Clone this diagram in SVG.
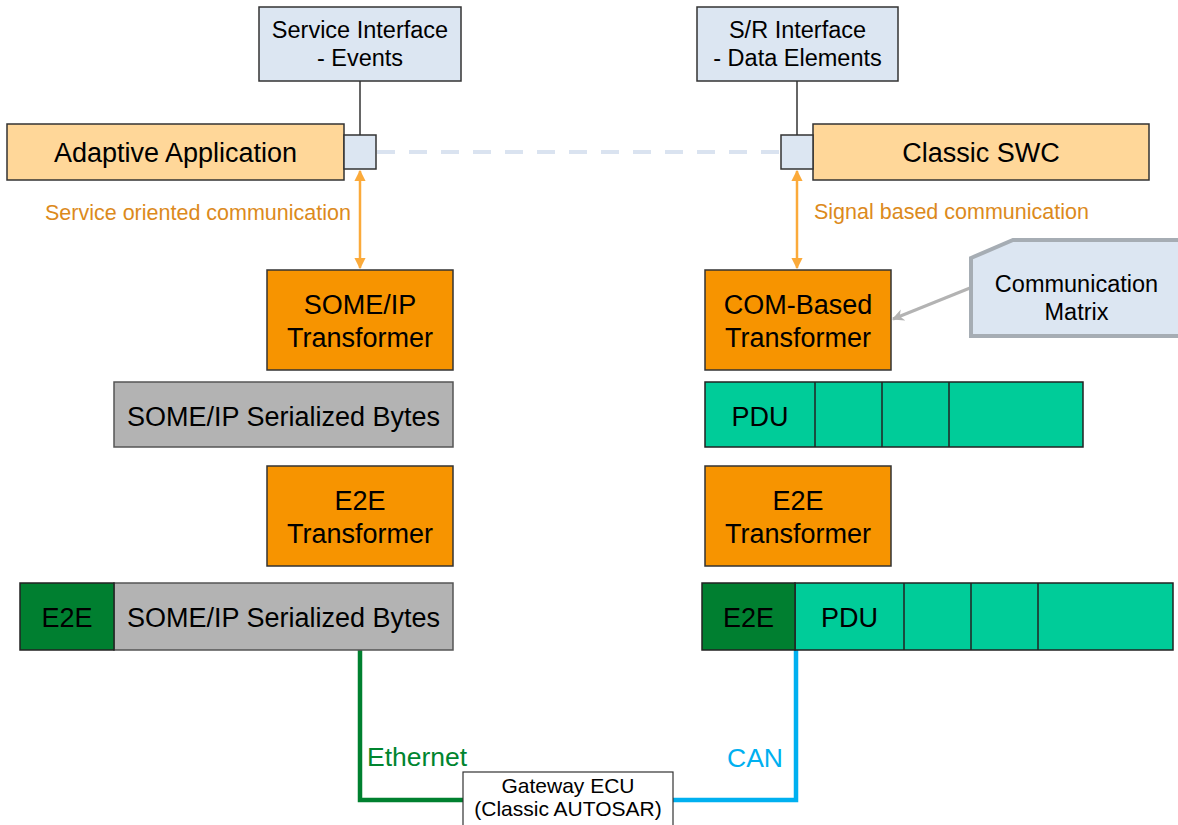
<svg xmlns="http://www.w3.org/2000/svg" width="1178" height="825" viewBox="0 0 1178 825">
<style>
  text { font-family: "Liberation Sans", Arial, sans-serif; fill: #000; }
  .lbl27 { font-size: 27px; text-anchor: middle; }
  .lbl24 { font-size: 23.5px; text-anchor: middle; }
  .iface { fill: #DCE6F2; stroke: #333; stroke-width: 1.5; }
  .app { fill: #FFD799; stroke: #333; stroke-width: 1.5; }
  .trans { fill: #F79400; stroke: #333; stroke-width: 1.5; }
  .bytes { fill: #B3B3B3; stroke: #555; stroke-width: 1.5; }
  .pdu { fill: #00CC99; stroke: #222; stroke-width: 1.5; }
  .e2e { fill: #007F30; stroke: #222; stroke-width: 1.5; }
  .port { fill: #DCE6F2; stroke: #333; stroke-width: 1.5; }
  .comm { font-size: 21.5px; fill: #DC8A1C; }
</style>
<defs>
  <marker id="oarrow" viewBox="0 0 10 10" refX="9" refY="5" markerWidth="4.5" markerHeight="4.5" orient="auto-start-reverse" markerUnits="strokeWidth">
    <path d="M0,0 L10,5 L0,10 z" fill="#FBAA3A"/>
  </marker>
  <marker id="garrow" viewBox="0 0 10 10" refX="9" refY="5" markerWidth="4" markerHeight="4" orient="auto" markerUnits="strokeWidth">
    <path d="M0,0 L10,5 L0,10 L3,5 z" fill="#B3B3B3"/>
  </marker>
</defs>

<g id="connectors">
  <line x1="360" y1="81" x2="360" y2="135" stroke="#333" stroke-width="1.5"/>
  <line x1="797" y1="81" x2="797" y2="135" stroke="#333" stroke-width="1.5"/>
  <line x1="377" y1="152" x2="781" y2="152" stroke="#DAE3F0" stroke-width="4" stroke-dasharray="18 14"/>
  <line x1="360" y1="171" x2="360" y2="268" stroke="#FBAA3A" stroke-width="2.5" marker-start="url(#oarrow)" marker-end="url(#oarrow)"/>
  <line x1="797" y1="171" x2="797" y2="268" stroke="#FBAA3A" stroke-width="2.5" marker-start="url(#oarrow)" marker-end="url(#oarrow)"/>
  <line x1="970" y1="288" x2="893" y2="319" stroke="#B3B3B3" stroke-width="3" marker-end="url(#garrow)"/>
  <polyline points="360,650 360,800 463,800" fill="none" stroke="#00802F" stroke-width="4.5"/>
  <polyline points="673,800 796,800 796,650" fill="none" stroke="#00B0F0" stroke-width="4.5"/>
  <text x="45" y="220" class="comm">Service oriented communication</text>
  <text x="814" y="219" class="comm">Signal based communication</text>
  <text x="367" y="766" style="font-size:26.5px;fill:#00852F">Ethernet</text>
  <text x="783" y="767" style="font-size:26.5px;fill:#00B0F0;text-anchor:end">CAN</text>
</g>

<g id="service-interface">
  <rect x="259" y="7" width="202" height="74" class="iface"/>
  <text x="360" y="38" class="lbl24">Service Interface</text>
  <text x="360" y="66" class="lbl24">- Events</text>
</g>

<g id="sr-interface">
  <rect x="697" y="7" width="201" height="74" class="iface"/>
  <text x="797.5" y="38" class="lbl24">S/R Interface</text>
  <text x="797.5" y="66" class="lbl24">- Data Elements</text>
</g>

<g id="adaptive-application">
  <rect x="7" y="124" width="337" height="56" class="app"/>
  <text x="175.5" y="162" class="lbl27">Adaptive Application</text>
</g>
<g id="adaptive-port">
  <rect x="344" y="135" width="32" height="34" class="port"/>
</g>

<g id="classic-swc">
  <rect x="813" y="124" width="336" height="56" class="app"/>
  <text x="981" y="162" class="lbl27">Classic SWC</text>
</g>
<g id="classic-port">
  <rect x="781" y="135" width="32" height="34" class="port"/>
</g>

<g id="someip-transformer">
  <rect x="267" y="270" width="186" height="100" class="trans"/>
  <text x="360" y="314" class="lbl27">SOME/IP</text>
  <text x="360" y="347" class="lbl27">Transformer</text>
</g>

<g id="com-transformer">
  <rect x="705" y="270" width="186" height="100" class="trans"/>
  <text x="798" y="314" class="lbl27">COM-Based</text>
  <text x="798" y="347" class="lbl27">Transformer</text>
</g>

<g id="communication-matrix">
  <polygon points="971,258 1013,240 1182,240 1182,336 971,336" fill="#DCE6F2" stroke="#A6ADB4" stroke-width="4"/>
  <text x="1076.5" y="292" class="lbl24">Communication</text>
  <text x="1076.5" y="320" class="lbl24">Matrix</text>
</g>

<g id="someip-bytes">
  <rect x="114" y="382" width="339" height="65" class="bytes"/>
  <text x="283.5" y="426" class="lbl27">SOME/IP Serialized Bytes</text>
</g>

<g id="pdu-row">
  <rect x="705" y="382" width="378" height="65" class="pdu"/>
  <line x1="815" y1="382" x2="815" y2="447" stroke="#222" stroke-width="1.5"/>
  <line x1="882" y1="382" x2="882" y2="447" stroke="#222" stroke-width="1.5"/>
  <line x1="949" y1="382" x2="949" y2="447" stroke="#222" stroke-width="1.5"/>
  <text x="760" y="426" class="lbl27">PDU</text>
</g>

<g id="e2e-transformer-left">
  <rect x="267" y="466" width="186" height="100" class="trans"/>
  <text x="360" y="510" class="lbl27">E2E</text>
  <text x="360" y="543" class="lbl27">Transformer</text>
</g>

<g id="e2e-transformer-right">
  <rect x="705" y="466" width="186" height="100" class="trans"/>
  <text x="798" y="510" class="lbl27">E2E</text>
  <text x="798" y="543" class="lbl27">Transformer</text>
</g>

<g id="e2e-someip-row">
  <rect x="114" y="583" width="339" height="67" class="bytes"/>
  <rect x="20" y="583" width="94" height="67" class="e2e"/>
  <text x="67" y="627" class="lbl27">E2E</text>
  <text x="283.5" y="627" class="lbl27">SOME/IP Serialized Bytes</text>
</g>

<g id="e2e-pdu-row">
  <rect x="795" y="583" width="378" height="67" class="pdu"/>
  <line x1="904" y1="583" x2="904" y2="650" stroke="#222" stroke-width="1.5"/>
  <line x1="971" y1="583" x2="971" y2="650" stroke="#222" stroke-width="1.5"/>
  <line x1="1038" y1="583" x2="1038" y2="650" stroke="#222" stroke-width="1.5"/>
  <rect x="702" y="583" width="93" height="67" class="e2e"/>
  <text x="748.5" y="627" class="lbl27">E2E</text>
  <text x="849.5" y="627" class="lbl27">PDU</text>
</g>

<g id="gateway-ecu">
  <rect x="463" y="772" width="210" height="60" fill="#fff" stroke="#333" stroke-width="1.2"/>
  <text x="568" y="793" style="font-size:21px;text-anchor:middle">Gateway ECU</text>
  <text x="568" y="816" style="font-size:21px;text-anchor:middle">(Classic AUTOSAR)</text>
</g>
</svg>
